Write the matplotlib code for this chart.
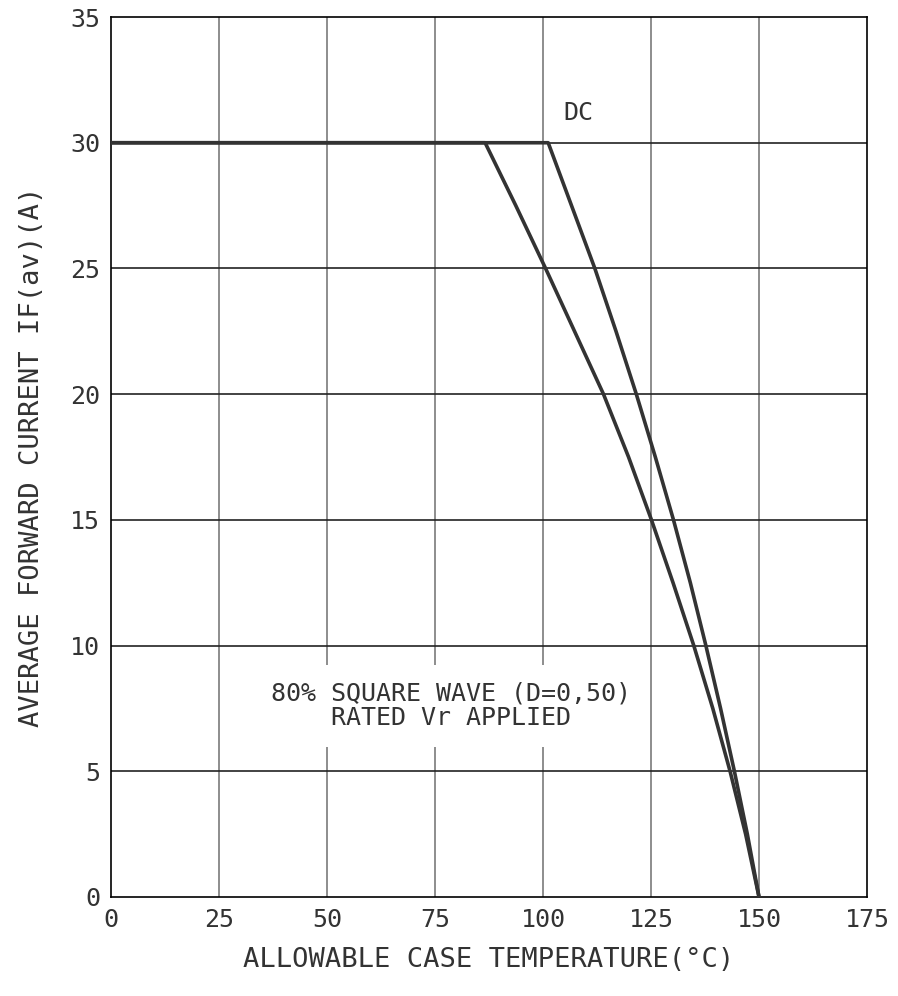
import matplotlib
matplotlib.use("Agg")
import matplotlib.pyplot as plt

# case temperature (°C) vs average forward current (A)
dc_temp = [0, 101.2, 106.6, 112.0, 116.9, 121.6, 126.0, 130.2, 134.1, 137.7, 141.1, 144.3, 147.3, 150]
dc_curr = [30, 30, 27.5, 25, 22.5, 20, 17.5, 15, 12.5, 10, 7.5, 5, 2.5, 0]

sq_temp = [0, 86.6, 93.7, 100.6, 107.3, 114.0, 119.8, 125.1, 130.1, 134.9, 139.3, 143.3, 146.9, 150]
sq_curr = [30, 30, 27.5, 25, 22.5, 20, 17.5, 15, 12.5, 10, 7.5, 5, 2.5, 0]

x_ticks = [0, 25, 50, 75, 100, 125, 150, 175]
y_ticks = [0, 5, 10, 15, 20, 25, 30, 35]

FONT = "DejaVu Sans Mono"
TXT = "#333333"

fig = plt.figure(figsize=(8.98, 9.96), dpi=100)
ax = fig.add_axes([0.1236, 0.0994, 0.8419, 0.8835])

ax.set_xlim(0, 175)
ax.set_ylim(0, 35)
ax.set_xticks(x_ticks)
ax.set_yticks(y_ticks)
ax.set_xticklabels([str(t) for t in x_ticks], fontsize=18, family=FONT, color=TXT)
ax.set_yticklabels([str(t) for t in y_ticks], fontsize=18, family=FONT, color=TXT)
ax.tick_params(length=0, pad=8)

for t in x_ticks[1:-1]:
    ax.axvline(t, color="#7a7a7a", lw=1.2, zorder=1)
for t in y_ticks[1:-1]:
    ax.axhline(t, color="#222222", lw=1.2, zorder=1)
for s in ax.spines.values():
    s.set_linewidth(1.2)

ax.plot(dc_temp, dc_curr, color="#333333", lw=2.6, zorder=3, solid_joinstyle="round")
ax.plot(sq_temp, sq_curr, color="#333333", lw=2.6, zorder=3, solid_joinstyle="round")

ax.text(108.3, 31.2, "DC", fontsize=18, family=FONT, ha="center", va="center", color=TXT)
ax.text(78.7, 7.6, "80% SQUARE WAVE (D=0,50)\nRATED Vr APPLIED", fontsize=18, family=FONT,
        ha="center", va="center", color=TXT, linespacing=1.0, zorder=4,
        bbox=dict(facecolor="white", edgecolor="none", pad=12))

ax.set_xlabel("ALLOWABLE CASE TEMPERATURE(°C)", fontsize=19.5, family=FONT, labelpad=11, color=TXT)
ax.set_ylabel("AVERAGE FORWARD CURRENT IF(av)(A)", fontsize=19.5, family=FONT, labelpad=18, color=TXT)

fig.savefig("out.png", dpi=100)
